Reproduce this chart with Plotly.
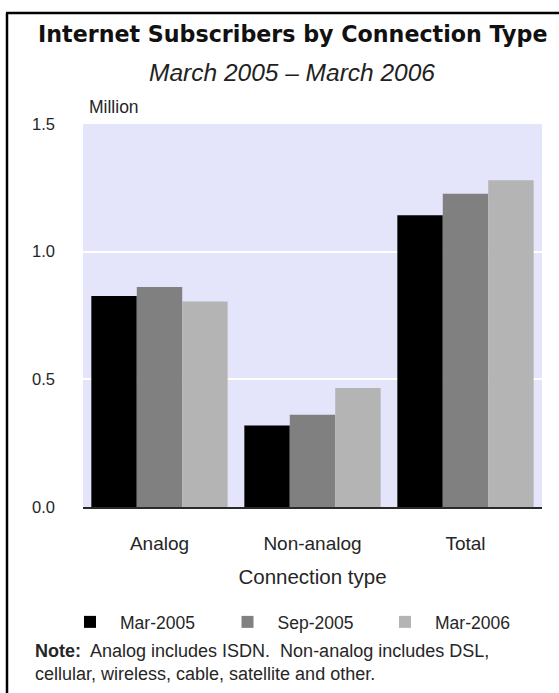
import plotly.graph_objects as go

categories = ["Analog", "Non-analog", "Total"]
series_names = ["Mar-2005", "Sep-2005", "Mar-2006"]
mar_2005 = [0.826, 0.319, 1.143]
sep_2005 = [0.862, 0.361, 1.227]
mar_2006 = [0.805, 0.466, 1.280]
series_values = [mar_2005, sep_2005, mar_2006]
colors = ["#000000", "#808080", "#b4b4b4"]
y_ticks = [0.0, 0.5, 1.0, 1.5]
y_tick_labels = ["0.0", "0.5", "1.0", "1.5"]

W, H = 559, 693
L, R, T, B = 83, 17, 124, 186
pw, ph = W - L - R, H - T - B


def px_x(px):
    return (px - L) / pw


def px_y(py):
    return (H - B - py) / ph


fig = go.Figure()
for name, vals, c in zip(series_names, series_values, colors):
    fig.add_trace(go.Bar(x=categories, y=vals, name=name,
                         marker=dict(color=c, line=dict(width=0))))

sans = "Liberation Sans, Arial, sans-serif"
txt = "#262626"
fig.update_layout(
    width=W, height=H,
    margin=dict(l=L, r=R, t=T, b=B),
    paper_bgcolor="white",
    plot_bgcolor="#e4e4fb",
    barmode="group",
    bargap=0.109,
    bargroupgap=0,
    font=dict(family=sans, size=18, color=txt),
    showlegend=True,
    legend=dict(
        orientation="h",
        x=px_x(60), xanchor="left",
        y=px_y(622), yanchor="middle",
        font=dict(size=17.5, color=txt),
        itemwidth=50,
        entrywidth=92.5, entrywidthmode="pixels",
        itemclick=False, itemdoubleclick=False,
        bgcolor="rgba(0,0,0,0)",
    ),
)
fig.update_yaxes(
    range=[0, 1.5], tickvals=y_ticks, ticktext=y_tick_labels,
    showgrid=True, gridcolor="white", gridwidth=2,
    zeroline=False, showline=False, ticks="",
    ticklabelstandoff=27,
    tickfont=dict(size=16.5, color=txt),
)
fig.update_xaxes(
    showline=True, linecolor="#2a2a2a", linewidth=2,
    ticks="", ticklabelstandoff=18,
    tickfont=dict(size=19, color=txt),
    title=dict(text="Connection type", standoff=17, font=dict(size=20.5, color=txt)),
)

# title / subtitle
fig.add_annotation(text="<b>Internet Subscribers by Connection Type</b>", xref="paper", yref="paper",
                   x=px_x(292), y=px_y(34), xanchor="center", yanchor="middle", showarrow=False,
                   font=dict(size=22.2, color="#111111", family="DejaVu Sans, sans-serif"))
fig.add_annotation(text="<i>March 2005 – March 2006</i>", xref="paper", yref="paper",
                   x=px_x(292), y=px_y(73), xanchor="center", yanchor="middle", showarrow=False,
                   font=dict(size=24.5, color="#222222", family=sans))
fig.add_annotation(text="Million", xref="paper", yref="paper",
                   x=px_x(87), y=px_y(107), xanchor="left", yanchor="middle", showarrow=False,
                   font=dict(size=17.5, color=txt, family=sans))
note_text = ("<b>Note:</b>  Analog includes ISDN.  Non-analog includes DSL,<br>"
             "cellular, wireless, cable, satellite and other.")
fig.add_annotation(text=note_text, xref="paper", yref="paper", align="left",
                   x=px_x(33), y=px_y(662), xanchor="left", yanchor="middle", showarrow=False,
                   font=dict(size=18, color=txt, family=sans))

# frame (left and top borders)
fig.add_shape(type="line", xref="paper", yref="paper", x0=px_x(7), x1=px_x(7), y0=px_y(13), y1=px_y(700),
              line=dict(color="black", width=2.5))
fig.add_shape(type="line", xref="paper", yref="paper", x0=px_x(6), x1=px_x(565), y0=px_y(13), y1=px_y(13),
              line=dict(color="black", width=2.5))

fig.write_html("out.html")
